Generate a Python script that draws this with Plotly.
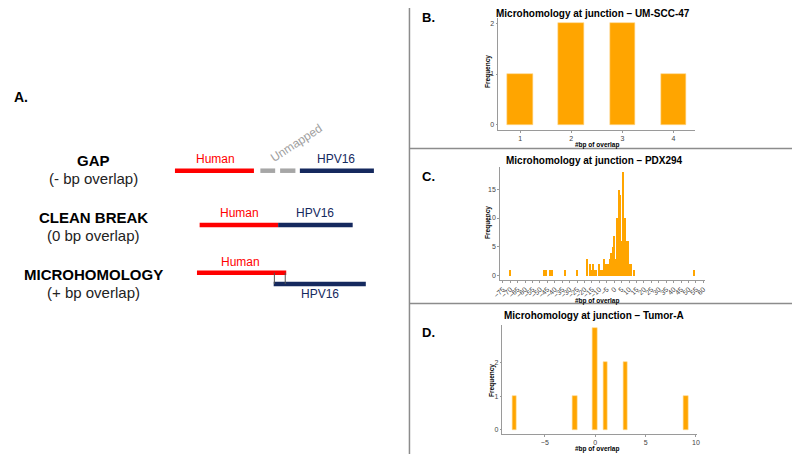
import plotly.graph_objects as go

# ---- data ----
b_overlap = [1, 2, 3, 4]
b_freq = [1, 2, 2, 1]

c_overlap = [-70, -47, -46, -43, -42, -33, -25,
             -18, -17, -16, -15, -14, -13, -12, -11, -10, -9, -8, -7, -6, -5,
             -4, -3, -2, -1, 0, 1, 2, 3, 4, 5, 6, 7, 8, 9, 10, 11, 13, 54]
c_freq = [1, 1, 1, 1, 1, 1, 1,
          3, 0, 2, 1, 2, 1, 1, 0, 2, 1, 1, 3, 2, 2,
          2, 3, 4, 5, 7, 3, 10, 15, 14, 6, 18, 10, 6, 6, 2, 2, 1, 1]

d_overlap = [-8, -2, 0, 1, 3, 9]
d_freq = [1, 1, 3, 2, 2, 1]

c_ticks = list(range(-75, 61, 5))

# schematic (left panel): rows of segments, in page pixels
rows = ["GAP", "CLEAN BREAK", "MICROHOMOLOGY"]
row_sub = ["(- bp overlap)", "(0 bp overlap)", "(+ bp overlap)"]
segments = [
    # (x0, x1, y, colour)
    (170, 250, 170.7, "#FF0000"),
    (256.5, 271.5, 170.7, "#A6A6A6"),
    (276.5, 292, 170.7, "#A6A6A6"),
    (296.5, 371.5, 170.7, "#15295E"),
    (195, 274.5, 225, "#FF0000"),
    (274.5, 350, 225, "#15295E"),
    (192.3, 282.7, 272.7, "#FF0000"),
    (270, 363.3, 284, "#15295E"),
]
ticks_micro = [270.7, 281.7]

ORANGE = "#FFA500"
FONT = "Liberation Sans, Arial, sans-serif"

# the page has an 8px body margin: figure sits at (8, 8) and fills the rest of the window
OFF = 8
W, H = 792, 446


def px(x):
    return (x - OFF) / W


def py(y):
    return 1 - (y - OFF) / H


fig = go.Figure()

# ---- histograms ----
fig.add_trace(go.Bar(x=b_overlap, y=b_freq, width=0.5, marker=dict(color=ORANGE, line=dict(width=0.6, color="#FFD98C")),
                     xaxis="x", yaxis="y", showlegend=False))
fig.add_trace(go.Bar(x=c_overlap, y=c_freq, width=1, marker=dict(color=ORANGE, line=dict(width=0)),
                     xaxis="x2", yaxis="y2", showlegend=False))
fig.add_trace(go.Bar(x=d_overlap, y=d_freq, width=0.45, marker=dict(color=ORANGE, line=dict(width=0.6, color="#FFD98C")),
                     xaxis="x3", yaxis="y3", showlegend=False))

# ---- schematic ----
for x0, x1, y, col in segments:
    fig.add_trace(go.Scatter(x=[x0, x1], y=[y, y], mode="lines", line=dict(color=col, width=4.5),
                             xaxis="x4", yaxis="y4", showlegend=False, hoverinfo="skip"))
for xv in ticks_micro:
    fig.add_trace(go.Scatter(x=[xv, xv], y=[272.7, 284], mode="lines", line=dict(color="#555555", width=1),
                             xaxis="x4", yaxis="y4", showlegend=False, hoverinfo="skip"))

annots = []
row_y = [160, 217, 274]
for name, sub, yy in zip(rows, row_sub, row_y):
    annots.append(dict(x=88, y=yy, xref="x4", yref="y4", text="<b>%s</b>" % name, showarrow=False,
                       font=dict(size=15, color="black", family=FONT)))
    annots.append(dict(x=88, y=yy + 18, xref="x4", yref="y4", text=sub, showarrow=False,
                       font=dict(size=15, color="#222222", family=FONT)))

seg_labels = [
    ("Human", 211.5, 159, "#FF0000"), ("HPV16", 333, 159, "#15295E"),
    ("Human", 235, 212.5, "#FF0000"), ("HPV16", 312, 212.5, "#15295E"),
    ("Human", 236.5, 261.5, "#FF0000"), ("HPV16", 316.5, 293.5, "#15295E"),
]
for txt, xx, yy, col in seg_labels:
    annots.append(dict(x=xx, y=yy, xref="x4", yref="y4", text=txt, showarrow=False,
                       font=dict(size=12, color=col, family=FONT)))
annots.append(dict(x=293, y=143, xref="x4", yref="y4", text="Unmapped", showarrow=False, textangle=-33,
                   font=dict(size=12, color="#9E9E9E", family=FONT)))
annots.append(dict(x=14, y=97, xref="x4", yref="y4", text="<b>A.</b>", showarrow=False,
                   font=dict(size=14, color="black", family=FONT)))

# panel letters and titles (page pixel positions)
panels = [("B.", 18, "Microhomology at junction \u2013 UM-SCC-47", 13, 593, 487, 71, 145),
          ("C.", 176, "Microhomology at junction \u2013 PDX294", 160.5, 595, 487, 222, 300.5),
          ("D.", 332, "Microhomology at junction \u2013 Tumor-A", 315, 594, 491, 380, 448.5)]
for lab, ly, title, ty, tx, ytx, yty, xty in panels:
    annots.append(dict(x=px(427), y=py(ly), xref="paper", yref="paper", text="<b>%s</b>" % lab,
                       xanchor="center", yanchor="middle",
                       showarrow=False, font=dict(size=13, color="black", family=FONT)))
    annots.append(dict(x=px(tx), y=py(ty), xref="paper", yref="paper", text="<b>%s</b>" % title,
                       xanchor="center", yanchor="middle",
                       showarrow=False, font=dict(size=10, color="black", family=FONT)))
    annots.append(dict(x=px(ytx), y=py(yty), xref="paper", yref="paper", text="<b>Frequency</b>",
                       xanchor="center", yanchor="middle",
                       showarrow=False, textangle=-90, font=dict(size=6.5, color="black", family=FONT)))
    annots.append(dict(x=px(597), y=py(xty), xref="paper", yref="paper", text="<b>#bp of overlap</b>",
                       xanchor="center", yanchor="middle",
                       showarrow=False, font=dict(size=6.5, color="black", family=FONT)))

ax_common = dict(showline=True, linecolor="#9A9A9A", linewidth=1.2, showgrid=False, zeroline=False,
                 ticks="outside", ticklen=1.5, tickcolor="#9A9A9A",
                 tickfont=dict(size=7, color="#444444", family=FONT))

fig.update_layout(
    width=W, height=H, margin=dict(l=0, r=0, t=0, b=0),
    plot_bgcolor="white", paper_bgcolor="white", bargap=0,
    xaxis=dict(domain=[px(497.3), px(696.7)], range=[0.568, 4.42], tickvals=b_overlap, anchor="y", **ax_common),
    yaxis=dict(domain=[py(130), py(18)], range=[-0.1, 2.1], tickvals=[0, 1, 2], anchor="x", **ax_common),
    xaxis2=dict(domain=[px(499), px(706.7)], range=[-77, 61], tickvals=c_ticks, tickangle=-45, anchor="y2", **ax_common),
    yaxis2=dict(domain=[py(280), py(166.7)], range=[-0.74, 18.9], tickvals=[0, 5, 10, 15], anchor="x2", **ax_common),
    xaxis3=dict(domain=[px(501.7), px(698.3)], range=[-9.2, 10.06], tickvals=[-5, 0, 5, 10], anchor="y3", **ax_common),
    yaxis3=dict(domain=[py(434.3), py(325)], range=[-0.13, 3.1], tickvals=[0, 1, 2], anchor="x3", **ax_common),
    xaxis4=dict(domain=[0, px(405)], range=[OFF, 405], visible=False, anchor="y4", fixedrange=True),
    yaxis4=dict(domain=[0, 1], range=[OFF + H, OFF], visible=False, anchor="x4", fixedrange=True),
    annotations=annots,
    shapes=[
        dict(type="line", xref="paper", yref="paper", x0=px(407.5), x1=px(407.5), y0=0, y1=1,
             line=dict(color="#8C8C8C", width=1.5)),
        dict(type="line", xref="paper", yref="paper", x0=px(407.5), x1=1, y0=py(148.5), y1=py(148.5),
             line=dict(color="#8C8C8C", width=1.5)),
        dict(type="line", xref="paper", yref="paper", x0=px(407.5), x1=1, y0=py(303.5), y1=py(303.5),
             line=dict(color="#8C8C8C", width=1.5)),
    ],
)

fig.write_html("out.html")
